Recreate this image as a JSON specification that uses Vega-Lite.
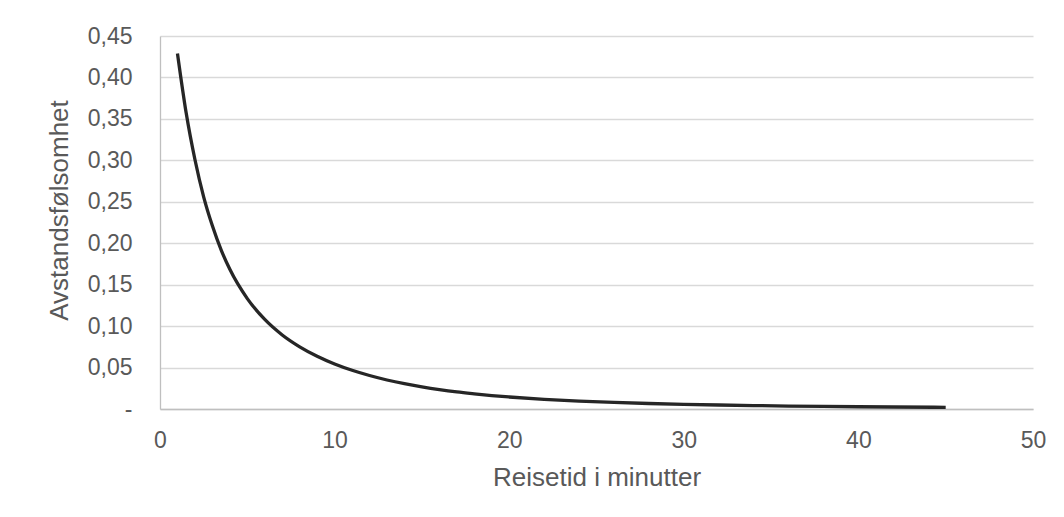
{
  "$schema": "https://vega.github.io/schema/vega-lite/v6.json",
  "autosize": "none",
  "padding": {"left": 160, "top": 36, "right": 31, "bottom": 108},
  "width": 873,
  "height": 373,
  "background": "white",
  "config": {
    "view": {"stroke": null},
    "font": "Liberation Sans"
  },
  "data": {
    "values": [
      {"t": 1, "v": 0.429},
      {"t": 1.5, "v": 0.357},
      {"t": 2, "v": 0.301},
      {"t": 2.5, "v": 0.256},
      {"t": 3, "v": 0.221},
      {"t": 3.5, "v": 0.192},
      {"t": 4, "v": 0.1685},
      {"t": 5, "v": 0.1332},
      {"t": 6, "v": 0.108},
      {"t": 7, "v": 0.0893},
      {"t": 8, "v": 0.075},
      {"t": 9, "v": 0.0636},
      {"t": 10, "v": 0.0543},
      {"t": 11, "v": 0.0467},
      {"t": 12, "v": 0.0404},
      {"t": 13, "v": 0.035},
      {"t": 14, "v": 0.0305},
      {"t": 15, "v": 0.0267},
      {"t": 16, "v": 0.0234},
      {"t": 17, "v": 0.0206},
      {"t": 18, "v": 0.0183},
      {"t": 19, "v": 0.0162},
      {"t": 20, "v": 0.0145},
      {"t": 22, "v": 0.01168},
      {"t": 24, "v": 0.00956},
      {"t": 26, "v": 0.00792},
      {"t": 28, "v": 0.00664},
      {"t": 30, "v": 0.00563},
      {"t": 32, "v": 0.0048},
      {"t": 34, "v": 0.00413},
      {"t": 36, "v": 0.00358},
      {"t": 38, "v": 0.00312},
      {"t": 40, "v": 0.00273},
      {"t": 42, "v": 0.0024},
      {"t": 45, "v": 0.002}
    ]
  },
  "mark": {"type": "line", "color": "#262626", "strokeWidth": 3.3, "interpolate": "monotone", "strokeCap": "butt"},
  "encoding": {
    "x": {
      "field": "t",
      "type": "quantitative",
      "scale": {"domain": [0, 50], "nice": false, "zero": true},
      "axis": {
        "title": "Reisetid i minutter",
        "values": [0, 10, 20, 30, 40, 50],
        "grid": false,
        "ticks": false,
        "domain": true,
        "domainColor": "#bfbfbf",
        "domainWidth": 1.3,
        "labelFont": "Liberation Sans",
        "labelFontSize": 23,
        "labelColor": "#595959",
        "labelBaseline": "alphabetic",
        "labelPadding": 38,
        "labelFlush": false,
        "titleFont": "Liberation Sans",
        "titleFontSize": 26,
        "titleFontWeight": "normal",
        "titleColor": "#595959",
        "titleBaseline": "alphabetic",
        "titleY": 76
      }
    },
    "y": {
      "field": "v",
      "type": "quantitative",
      "scale": {"domain": [0, 0.45], "nice": false},
      "axis": {
        "title": "Avstandsfølsomhet",
        "values": [0, 0.05, 0.1, 0.15, 0.2, 0.25, 0.3, 0.35, 0.4, 0.45],
        "labelExpr": "datum.value == 0 ? '-\u00a0\u00a0\u00a0' : replace(format(datum.value, '.2f'), '.', ',')",
        "grid": true,
        "gridColor": "#d9d9d9",
        "gridWidth": 1.3,
        "ticks": false,
        "domain": true,
        "domainColor": "#bfbfbf",
        "domainWidth": 1.3,
        "labelFont": "Liberation Sans",
        "labelFontSize": 23,
        "labelColor": "#595959",
        "labelPadding": 28,
        "labelBaseline": "middle",
        "labelFlush": false,
        "titleFont": "Liberation Sans",
        "titleFontSize": 26,
        "titleFontWeight": "normal",
        "titleColor": "#595959",
        "titleBaseline": "alphabetic",
        "titleX": -93,
        "titleY": 174,
        "titleAngle": -90,
        "titleAlign": "center"
      }
    }
  }
}
